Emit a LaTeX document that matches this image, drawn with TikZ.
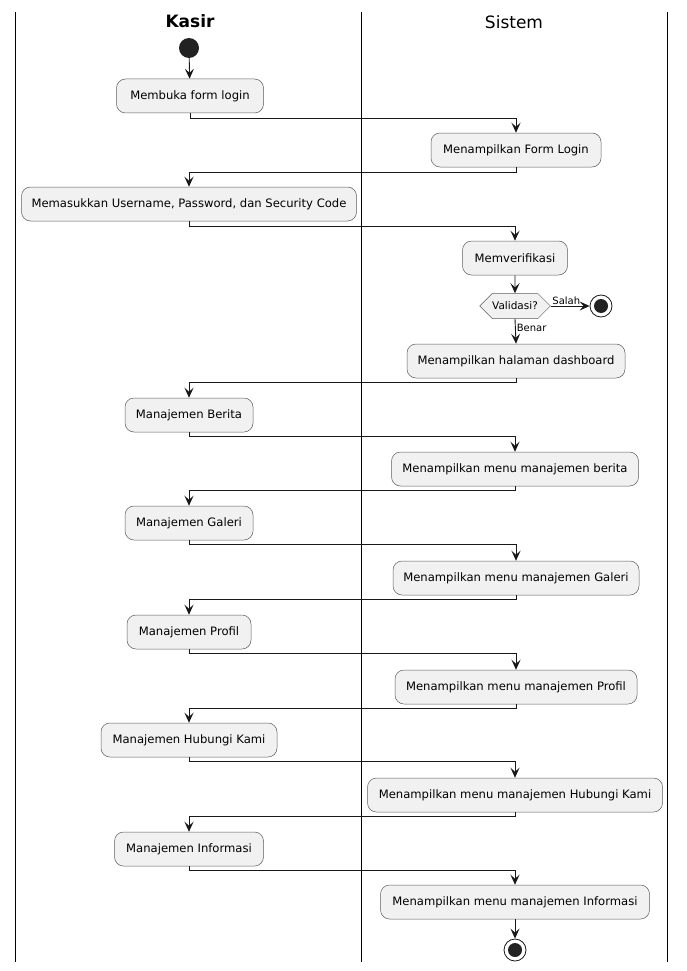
\documentclass[tikz,border=0pt]{standalone}
\usepackage{fontspec}
\setmainfont{DejaVu Sans}
\usetikzlibrary{arrows.meta,shapes.symbols}
\definecolor{actfill}{HTML}{F1F1F1}
\definecolor{actline}{HTML}{181818}
\definecolor{dotfill}{HTML}{222222}
\tikzset{
  act/.style={draw=actline!70, line width=0.5pt, fill=actfill, rounded corners=9pt,
    minimum height=34pt, inner sep=0pt, font=\fontsize{11.6}{13}\selectfont},
  decide/.style={draw=actline!70, line width=0.5pt, fill=actfill, shape=signal,
    signal to=west and east, signal from=nowhere, minimum height=25pt, minimum width=69pt,
    inner sep=0pt, font=\fontsize{10.5}{12}\selectfont},
  flow/.style={draw=actline, line width=0.9pt, -{Stealth[length=10pt,width=9pt,inset=4pt]}},
  lane/.style={draw=black, line width=1pt},
  guard/.style={font=\fontsize{10}{12}\selectfont, inner sep=1pt},
  startdot/.style={circle, fill=dotfill, minimum size=20pt, inner sep=0pt},
  enddot/.style={circle, draw=actline, line width=0.8pt, fill=white, minimum size=22pt, inner sep=0pt,
    path picture={\fill[dotfill] (path picture bounding box.center) circle (7pt);}},
}
\begin{document}
\begin{tikzpicture}[x=1pt,y=-1pt]
\useasboundingbox (0,0) rectangle (686,971);
\fill[white] (0,0) rectangle (686,971);

% swimlane borders
\draw[lane] (15,12) -- (15,962);
\draw[lane] (361,12) -- (361,962);
\draw[lane] (667,12) -- (667,962);

% swimlane headers
\node[font=\fontsize{17}{20}\selectfont\bfseries] (hkasir) at (190,21) {Kasir};
\node[font=\fontsize{17}{20}\selectfont] (hsistem) at (514,22) {Sistem};

% activities
\node[startdot] (start) at (189,48) {};
\node[act, minimum width=147pt] (a1) at (190,96) {Membuka form login};
\node[act, minimum width=170pt] (b1) at (516,150) {Menampilkan Form Login};
\node[act, minimum width=335pt] (a2) at (189,204) {Memasukkan Username, Password, dan Security Code};
\node[act, minimum width=105pt] (b2) at (515,258) {Memverifikasi};
\node[decide] (val) at (515,306) {Validasi?};
\node[enddot] (stop1) at (601,306) {};
\node[act, minimum width=218pt] (b3) at (516,361) {Menampilkan halaman dashboard};
\node[act, minimum width=128pt] (a3) at (189,415) {Manajemen Berita};
\node[act, minimum width=247pt] (b4) at (515,469) {Menampilkan menu manajemen berita};
\node[act, minimum width=128pt] (a4) at (189,523) {Manajemen Galeri};
\node[act, minimum width=246pt] (b5) at (516,578) {Menampilkan menu manajemen Galeri};
\node[act, minimum width=124pt] (a5) at (189,632) {Manajemen Profil};
\node[act, minimum width=242pt] (b6) at (516,687) {Menampilkan menu manajemen Profil};
\node[act, minimum width=176pt] (a6) at (189,740) {Manajemen Hubungi Kami};
\node[act, minimum width=295pt] (b7) at (515,795) {Menampilkan menu manajemen Hubungi Kami};
\node[act, minimum width=149pt] (a7) at (189,849) {Manajemen Informasi};
\node[act, minimum width=269pt] (b8) at (515,902) {Menampilkan menu manajemen Informasi};
\node[enddot] (stop2) at (515,950) {};

% control flow
\draw[flow] (start) -- (a1);
\draw[flow] (a1.south) -- ++(0,5) -| (b1.north);
\draw[flow] (b1.south) -- ++(0,5) -| (a2.north);
\draw[flow] (a2.south) -- ++(0,5) -| (b2.north);
\draw[flow] (b2) -- (val);
\draw[flow] (val.east) -- node[guard, above, pos=0.4] (lsalah) {Salah} (stop1.west);
\draw[flow] (val.south) -- node[guard, right, pos=0.35] (lbenar) {Benar} (b3.north);
\draw[flow] (b3.south) -- ++(0,4) -| (a3.north);
\draw[flow] (a3.south) -- ++(0,4) -| (b4.north);
\draw[flow] (b4.south) -- ++(0,4) -| (a4.north);
\draw[flow] (a4.south) -- ++(0,4) -| (b5.north);
\draw[flow] (b5.south) -- ++(0,4) -| (a5.north);
\draw[flow] (a5.south) -- ++(0,4) -| (b6.north);
\draw[flow] (b6.south) -- ++(0,4) -| (a6.north);
\draw[flow] (a6.south) -- ++(0,4) -| (b7.north);
\draw[flow] (b7.south) -- ++(0,4) -| (a7.north);
\draw[flow] (a7.south) -- ++(0,4) -| (b8.north);
\draw[flow] (b8) -- (stop2);
\end{tikzpicture}
\end{document}
